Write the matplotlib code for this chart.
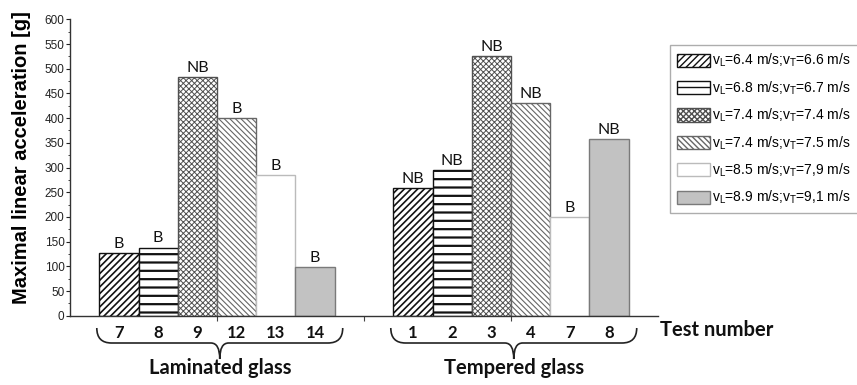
import matplotlib
matplotlib.use("Agg")
import matplotlib.pyplot as plt
from matplotlib.path import Path
from matplotlib.patches import PathPatch, Patch
from matplotlib.transforms import blended_transform_factory
from matplotlib.ticker import MultipleLocator

# ---- data -------------------------------------------------------------
speed_labels = [
    "v$_\\mathregular{L}$=6.4 m/s;v$_\\mathregular{T}$=6.6 m/s",
    "v$_\\mathregular{L}$=6.8 m/s;v$_\\mathregular{T}$=6.7 m/s",
    "v$_\\mathregular{L}$=7.4 m/s;v$_\\mathregular{T}$=7.4 m/s",
    "v$_\\mathregular{L}$=7.4 m/s;v$_\\mathregular{T}$=7.5 m/s",
    "v$_\\mathregular{L}$=8.5 m/s;v$_\\mathregular{T}$=7,9 m/s",
    "v$_\\mathregular{L}$=8.9 m/s;v$_\\mathregular{T}$=9,1 m/s",
]
laminated_tests = ["7", "8", "9", "12", "13", "14"]
laminated_values = [126, 138, 484, 401, 285, 98]
laminated_marks = ["B", "B", "NB", "B", "B", "B"]

tempered_tests = ["1", "2", "3", "4", "7", "8"]
tempered_values = [258, 294, 526, 431, 199, 357]
tempered_marks = ["NB", "NB", "NB", "NB", "B", "NB"]

group_names = ["Laminated glass", "Tempered glass"]

# ---- styles -----------------------------------------------------------
styles = [
    dict(facecolor="white", edgecolor="#111111", hatch="/" * 5, hlw=1.2),
    dict(facecolor="white", edgecolor="#111111", hatch="--", hlw=1.6),
    dict(facecolor="white", edgecolor="#505050", hatch="x" * 6, hlw=0.7),
    dict(facecolor="white", edgecolor="#666666", hatch="\\" * 6, hlw=0.8),
    dict(facecolor="white", edgecolor="#bbbbbb", hatch=None, hlw=0.8),
    dict(facecolor="#c2c2c2", edgecolor="#7a7a7a", hatch=None, hlw=0.8),
]

plt.rcParams["font.family"] = ["Liberation Sans", "DejaVu Sans"]
label_font = ["Lato", "DejaVu Sans"]

fig = plt.figure(figsize=(8.57, 3.85), dpi=100)
ax = fig.add_axes([70 / 857, 69.3 / 385, 588 / 857, 296.4 / 385])

bar_w = 1.067
group_centers = [4.0, 12.0]
n = len(laminated_values)
offsets = [(i - (n - 1) / 2) * bar_w for i in range(n)]

groups = [
    (laminated_values, laminated_marks, laminated_tests),
    (tempered_values, tempered_marks, tempered_tests),
]

for i, st in enumerate(styles):
    xs = [gc + offsets[i] for gc in group_centers]
    hs = [g[0][i] for g in groups]
    with plt.rc_context({"hatch.linewidth": st["hlw"]}):
        bars = ax.bar(xs, hs, width=bar_w, facecolor=st["facecolor"],
                      edgecolor=st["edgecolor"], hatch=st["hatch"],
                      linewidth=1.0, zorder=2)
        if hasattr(bars[0], "set_hatch_linewidth"):
            for b in bars:
                b.set_hatch_linewidth(st["hlw"])
    for x, h, g in zip(xs, hs, groups):
        ax.annotate(g[1][i], (x, h), xytext=(0, 1.5), textcoords="offset points",
                    ha="center", va="bottom", fontsize=11.5, family=label_font,
                    color="#111111")

ax.set_xlim(0, 16)
ax.set_ylim(0, 600)
ax.set_xticks([4, 8, 12])
ax.set_xticklabels([])
ax.yaxis.set_major_locator(MultipleLocator(50))
ax.yaxis.set_minor_locator(MultipleLocator(25))
ax.tick_params(axis="y", which="major", direction="out", length=3, width=0.8,
               labelsize=8.5, pad=1, colors="#222222")
ax.tick_params(axis="y", which="minor", direction="out", length=1.6, width=0.7,
               colors="#444444")
ax.tick_params(axis="x", which="major", direction="out", length=3.5, width=0.8,
               colors="#444444")
for side in ("top", "right"):
    ax.spines[side].set_visible(False)
for side in ("left", "bottom"):
    ax.spines[side].set_color("#333333")
    ax.spines[side].set_linewidth(1.0)

fig.text(22 / 857, 0.59, "Maximal linear acceleration [g]", rotation=90,
         ha="center", va="center", fontsize=14.5, fontweight="bold")

# test numbers, braces and group names under the axis
tr = blended_transform_factory(ax.transData, fig.transFigure)
y_num = 1 - 333 / 385
y_top = 1 - 328 / 385
y_mid = 1 - 343 / 385
y_tip = 1 - 359 / 385
y_name = 1 - 368 / 385


def brace(x0, x1, xc):
    """Curly brace from x0 to x1 (data x), pointing down at xc."""
    c_end = 0.40
    c_mid = 0.24
    verts = [
        (x0, y_top), (x0, y_mid), (x0 + c_end, y_mid),
        (xc - c_mid, y_mid),
        (xc, y_mid), (xc, y_tip),
        (xc, y_mid), (xc + c_mid, y_mid),
        (x1 - c_end, y_mid),
        (x1, y_mid), (x1, y_top),
    ]
    codes = [Path.MOVETO, Path.CURVE3, Path.CURVE3,
             Path.LINETO, Path.CURVE3, Path.CURVE3,
             Path.CURVE3, Path.CURVE3,
             Path.LINETO, Path.CURVE3, Path.CURVE3]
    p = PathPatch(Path(verts, codes), transform=tr, facecolor="none",
                  edgecolor="#222222", linewidth=1.2, clip_on=False)
    fig.add_artist(p)


for gc, (vals, marks, tests), name in zip(group_centers, groups, group_names):
    for off, t in zip(offsets, tests):
        ax.text(gc + off, y_num, t, transform=tr, ha="center", va="center",
                fontsize=12, fontweight="bold", family=label_font, color="#111111")
    left = gc + offsets[0] - bar_w / 2
    right = gc + offsets[-1] + bar_w / 2
    x0 = left - 0.07
    x1 = right + 0.22
    brace(x0, x1, (x0 + x1) / 2)
    ax.text((x0 + x1) / 2, y_name, name, transform=tr, ha="center", va="center",
            fontsize=14.5, fontweight="bold", family=label_font, color="#111111")

fig.text(660 / 857, 1 - 330 / 385, "Test number", ha="left", va="center",
         fontsize=14.5, fontweight="bold", family=label_font, color="#111111")

# legend
handles = []
for st in styles:
    with plt.rc_context({"hatch.linewidth": st["hlw"]}):
        h = Patch(facecolor=st["facecolor"], edgecolor=st["edgecolor"],
                  hatch=st["hatch"], linewidth=1.0)
    if hasattr(h, "set_hatch_linewidth"):
        h.set_hatch_linewidth(st["hlw"])
    handles.append(h)

leg = fig.legend(handles, speed_labels, loc="upper left",
                 bbox_to_anchor=(670 / 857, 1 - 45 / 385),
                 fontsize=10, frameon=True, fancybox=False,
                 handlelength=2.35, handleheight=1.1, handletextpad=0.2,
                 labelspacing=0.72, borderpad=0.5, borderaxespad=0)
leg.get_frame().set_edgecolor("#999999")
leg.get_frame().set_linewidth(1.0)

fig.savefig("out.png", dpi=100)
